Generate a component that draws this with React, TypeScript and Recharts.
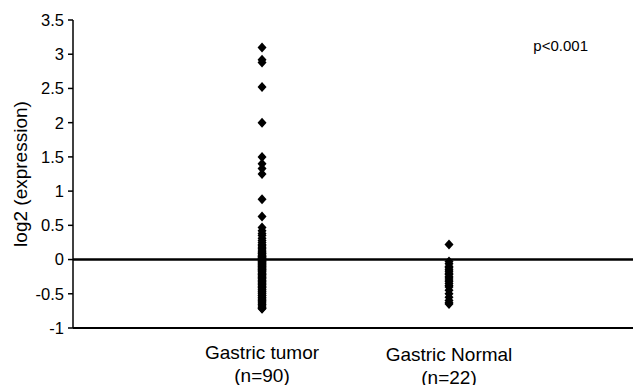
import React from 'react';
import { ScatterChart, Scatter, XAxis, YAxis, ReferenceLine } from 'recharts';

const categories = ['Gastric tumor', 'Gastric Normal'];
const groupSizes = ['(n=90)', '(n=22)'];
const yTicks = [-1, -0.5, 0, 0.5, 1, 1.5, 2, 2.5, 3, 3.5];

const tumorValues = [
  3.1, 2.92, 2.88, 2.52, 2.0, 1.5, 1.4, 1.33, 1.25, 0.88, 0.63,
  0.47, 0.42, 0.38, 0.35, 0.31, 0.28, 0.25, 0.22, 0.2, 0.18,
  0.16, 0.14, 0.12, 0.1, 0.09, 0.08, 0.06, 0.05, 0.04, 0.03,
  0.02, 0.01, 0.0, -0.01, -0.02, -0.03, -0.04, -0.05, -0.06, -0.07,
  -0.08, -0.09, -0.1, -0.11, -0.12, -0.13, -0.14, -0.15, -0.16, -0.17,
  -0.18, -0.2, -0.21, -0.22, -0.23, -0.25, -0.26, -0.27, -0.28, -0.3,
  -0.31, -0.32, -0.33, -0.35, -0.36, -0.37, -0.39, -0.4, -0.41, -0.43,
  -0.44, -0.46, -0.47, -0.49, -0.5, -0.52, -0.53, -0.55, -0.56, -0.58,
  -0.6, -0.61, -0.63, -0.65, -0.66, -0.68, -0.7, -0.71, -0.72,
];

const normalValues = [
  0.22, -0.03, -0.06, -0.1, -0.12, -0.15, -0.17, -0.2, -0.22, -0.25, -0.27,
  -0.3, -0.32, -0.35, -0.38, -0.4, -0.45, -0.5, -0.55, -0.6, -0.63, -0.65,
];

const pLabel = 'p<0.001';
const yTitle = 'log2 (expression)';

const tumorData = tumorValues.map((v) => ({ x: 1, y: v }));
const normalData = normalValues.map((v) => ({ x: 2, y: v }));

const FONT = '"Liberation Sans", Arial, Helvetica, sans-serif';

const Diamond = (props: any) => {
  const { cx, cy } = props;
  if (cx == null || cy == null) return null;
  const w = 4.5;
  const h = 5;
  return (
    <polygon
      points={`${cx},${cy - h} ${cx + w},${cy} ${cx},${cy + h} ${cx - w},${cy}`}
      fill="#000"
    />
  );
};

const XTick = (props: any) => {
  const { x, y, payload } = props;
  const i = Math.round(payload.value) - 1;
  const extra = i === 1 ? 2 : 0;
  return (
    <text x={x} y={y} textAnchor="middle" fontFamily={FONT} fontSize={19} fill="#000">
      <tspan x={x} dy={31 + extra}>{categories[i]}</tspan>
      <tspan x={x} dy={23}>{groupSizes[i]}</tspan>
    </text>
  );
};

export default function App() {
  return (
    <div style={{ position: 'absolute', left: 0, top: 0, width: 634, height: 385, background: '#fff' }}>
      <ScatterChart width={634} height={385} margin={{ top: 20, right: 1, bottom: 0, left: 0 }}>
        <XAxis
          type="number"
          dataKey="x"
          domain={[-0.011, 2.984]}
          ticks={[1, 2]}
          tick={<XTick />}
          tickLine={false}
          tickSize={0}
          tickMargin={0}
          height={57}
          axisLine={{ stroke: '#000', strokeWidth: 2 }}
          allowDataOverflow
        />
        <YAxis
          type="number"
          dataKey="y"
          domain={[-1, 3.5]}
          ticks={yTicks}
          width={73}
          tickSize={5}
          tickMargin={4}
          interval={0}
          axisLine={{ stroke: '#000', strokeWidth: 1.5 }}
          tickLine={{ stroke: '#000', strokeWidth: 1.5 }}
          tick={{ fill: '#000', fontSize: 16.5, fontFamily: FONT }}
          allowDataOverflow
        />
        <ReferenceLine y={0} stroke="#000" strokeWidth={2.5} />
        <Scatter data={tumorData} shape={<Diamond />} isAnimationActive={false} />
        <Scatter data={normalData} shape={<Diamond />} isAnimationActive={false} />
        <text
          x={20}
          y={174}
          transform="rotate(-90 20 174)"
          textAnchor="middle"
          dominantBaseline="central"
          fontFamily={FONT}
          fontSize={19}
          fill="#000"
        >
          {yTitle}
        </text>
        <text x={588} y={51} textAnchor="end" fontFamily={FONT} fontSize={15} fill="#000">
          {pLabel}
        </text>
      </ScatterChart>
    </div>
  );
}
